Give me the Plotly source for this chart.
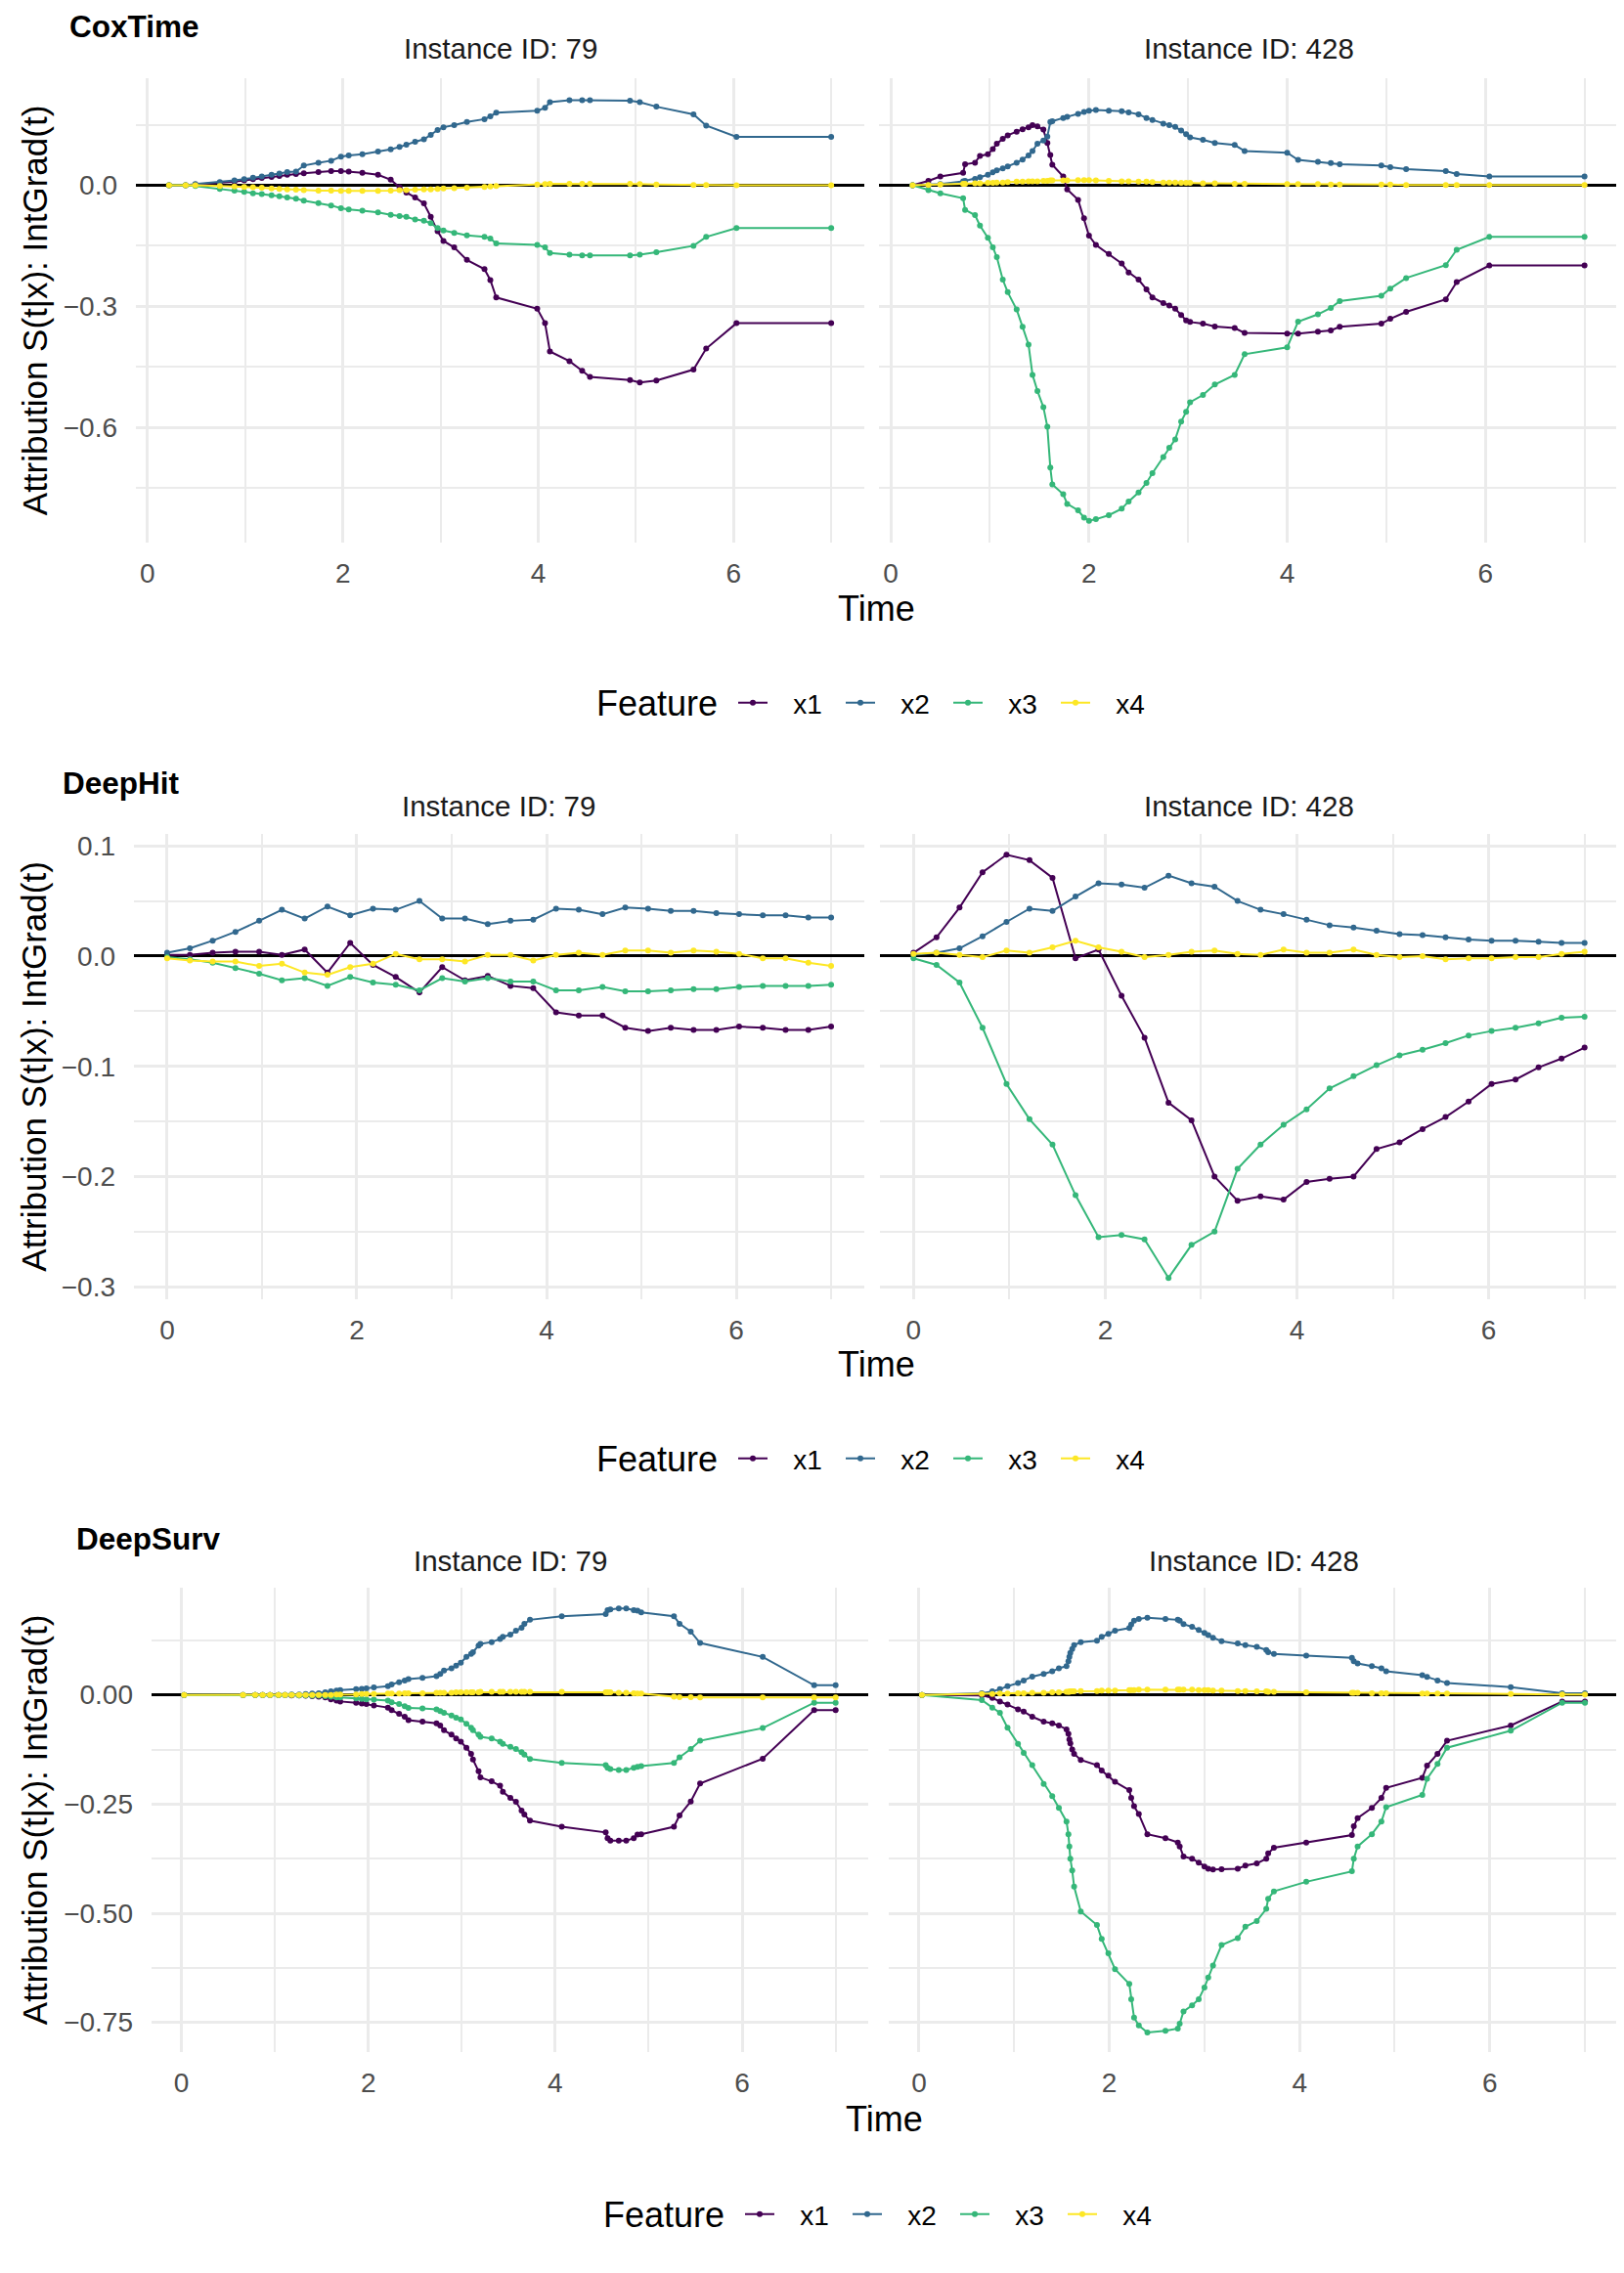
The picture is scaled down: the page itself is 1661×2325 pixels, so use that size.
import plotly.graph_objects as go
from plotly.subplots import make_subplots

# the page body adds an 8px margin, so the figure is drawn 8px in from the corner
OFF = 8
W, H = 1661 - OFF, 2325 - OFF
FONT = "Liberation Sans, Arial, Helvetica, sans-serif"
FEATURES = ["x1", "x2", "x3", "x4"]
COLORS = ["#440154", "#31688E", "#35B779", "#FDE725"]

# ---- CoxTime, instance 79
cox_79_t = [0.22, 0.39, 0.49, 0.74, 0.89, 0.99, 1.08, 1.17, 1.27, 1.35, 1.43, 1.52, 1.60, 1.75, 1.88,
            1.98, 2.06, 2.20, 2.36, 2.49, 2.58, 2.65, 2.74, 2.83, 2.90, 2.97, 3.03, 3.14, 3.27, 3.45,
            3.51, 3.57, 3.99, 4.07, 4.12, 4.32, 4.45, 4.53, 4.94, 5.04, 5.21, 5.59, 5.72, 6.03, 7.0]
cox_79_x1 = [0, 0, 0.002, 0.006, 0.009, 0.012, 0.015, 0.018, 0.021, 0.023, 0.026, 0.028, 0.030, 0.033, 0.035,
             0.035, 0.034, 0.031, 0.026, 0.014, -0.005, -0.018, -0.030, -0.045, -0.078, -0.114, -0.138, -0.154,
             -0.185, -0.208, -0.235, -0.278, -0.306, -0.342, -0.412, -0.436, -0.460, -0.475, -0.483, -0.489,
             -0.484, -0.457, -0.405, -0.342, -0.342]
cox_79_x2 = [0, 0, 0.003, 0.008, 0.012, 0.015, 0.019, 0.022, 0.026, 0.029, 0.033, 0.034, 0.049, 0.056, 0.061,
             0.071, 0.074, 0.077, 0.084, 0.089, 0.095, 0.101, 0.108, 0.114, 0.125, 0.137, 0.144, 0.149, 0.157,
             0.164, 0.171, 0.180, 0.185, 0.192, 0.206, 0.211, 0.211, 0.211, 0.210, 0.206, 0.195, 0.176, 0.148,
             0.120, 0.120]
cox_79_x3 = [0, 0, -0.002, -0.009, -0.013, -0.016, -0.020, -0.022, -0.025, -0.027, -0.030, -0.033, -0.038,
             -0.044, -0.050, -0.057, -0.060, -0.063, -0.067, -0.073, -0.076, -0.078, -0.085, -0.088, -0.094,
             -0.106, -0.112, -0.118, -0.124, -0.128, -0.132, -0.144, -0.148, -0.154, -0.168, -0.172, -0.174,
             -0.174, -0.174, -0.172, -0.166, -0.150, -0.128, -0.106, -0.106]
cox_79_x4 = [0, 0, 0, -0.002, -0.003, -0.004, -0.005, -0.006, -0.008, -0.009, -0.010, -0.011, -0.012, -0.013,
             -0.013, -0.014, -0.014, -0.014, -0.014, -0.013, -0.012, -0.012, -0.011, -0.010, -0.010, -0.009,
             -0.008, -0.007, -0.006, -0.004, -0.003, -0.002, 0.002, 0.003, 0.004, 0.004, 0.004, 0.004, 0.004,
             0.003, 0.002, 0.001, 0.001, 0.0, 0.0]

# ---- CoxTime, instance 428
cox_428_t = [0.22, 0.38, 0.50, 0.73, 0.75, 0.85, 0.90, 0.98, 1.03, 1.07, 1.13, 1.18, 1.27, 1.33, 1.39,
             1.43, 1.48, 1.54, 1.58, 1.61, 1.63, 1.74, 1.78, 1.89, 1.95, 2.0, 2.07, 2.20, 2.33, 2.40,
             2.50, 2.58, 2.64, 2.75, 2.81, 2.87, 2.93, 2.98, 3.02, 3.15, 3.27, 3.47, 3.57, 4.0, 4.11,
             4.31, 4.44, 4.53, 4.95, 5.04, 5.20, 5.60, 5.71, 6.04, 7.0]
cox_428_x1 = [0, 0.011, 0.022, 0.031, 0.052, 0.056, 0.073, 0.077, 0.090, 0.103, 0.115, 0.124, 0.133, 0.139,
              0.144, 0.149, 0.146, 0.138, 0.105, 0.075, 0.051, 0.022, -0.010, -0.036, -0.082, -0.125, -0.148,
              -0.170, -0.194, -0.216, -0.234, -0.258, -0.278, -0.292, -0.298, -0.306, -0.322, -0.335, -0.339,
              -0.343, -0.350, -0.354, -0.366, -0.368, -0.368, -0.363, -0.360, -0.351, -0.343, -0.331, -0.314,
              -0.283, -0.240, -0.199, -0.199]
cox_428_x2 = [0, 0.001, 0.003, 0.010, 0.011, 0.016, 0.020, 0.026, 0.032, 0.037, 0.042, 0.047, 0.056, 0.064,
              0.074, 0.085, 0.103, 0.111, 0.121, 0.157, 0.159, 0.167, 0.170, 0.177, 0.182, 0.185, 0.187, 0.185,
              0.184, 0.181, 0.176, 0.167, 0.162, 0.153, 0.149, 0.145, 0.136, 0.127, 0.119, 0.113, 0.105, 0.100,
              0.085, 0.081, 0.063, 0.058, 0.055, 0.052, 0.049, 0.045, 0.040, 0.035, 0.028, 0.022, 0.022]
cox_428_x3 = [0, -0.012, -0.020, -0.032, -0.061, -0.074, -0.100, -0.130, -0.154, -0.178, -0.234, -0.265,
              -0.308, -0.351, -0.395, -0.470, -0.510, -0.550, -0.599, -0.700, -0.742, -0.766, -0.790, -0.806,
              -0.824, -0.832, -0.828, -0.818, -0.802, -0.784, -0.762, -0.738, -0.714, -0.674, -0.651, -0.630,
              -0.586, -0.562, -0.538, -0.520, -0.494, -0.470, -0.419, -0.402, -0.338, -0.320, -0.304, -0.287,
              -0.274, -0.256, -0.230, -0.198, -0.160, -0.128, -0.128]
cox_428_x4 = [0, 0.001, 0.002, 0.004, 0.004, 0.005, 0.005, 0.006, 0.006, 0.007, 0.007, 0.008, 0.009, 0.009,
              0.010, 0.010, 0.010, 0.011, 0.011, 0.012, 0.012, 0.012, 0.012, 0.013, 0.013, 0.013, 0.012, 0.011,
              0.010, 0.010, 0.009, 0.009, 0.008, 0.007, 0.007, 0.007, 0.006, 0.006, 0.006, 0.005, 0.005, 0.004,
              0.004, 0.003, 0.003, 0.003, 0.002, 0.002, 0.002, 0.002, 0.001, 0.001, 0.001, 0.001, 0.001]

# ---- DeepHit (same time grid for both instances)
deephit_t = [0, 0.24, 0.48, 0.72, 0.97, 1.21, 1.45, 1.69, 1.93, 2.17, 2.41, 2.66, 2.90, 3.14, 3.38,
             3.62, 3.86, 4.10, 4.34, 4.59, 4.83, 5.07, 5.31, 5.55, 5.79, 6.03, 6.28, 6.52, 6.76, 7.0]
hit_79_x1 = [0.001, 0.001, 0.003, 0.004, 0.004, 0.001, 0.006, -0.015, 0.012, -0.008, -0.019, -0.033, -0.010,
             -0.022, -0.018, -0.027, -0.029, -0.051, -0.054, -0.054, -0.065, -0.068, -0.065, -0.067, -0.067,
             -0.064, -0.065, -0.067, -0.067, -0.064]
hit_79_x2 = [0.003, 0.007, 0.014, 0.022, 0.032, 0.042, 0.034, 0.045, 0.037, 0.043, 0.042, 0.050, 0.034, 0.034,
             0.029, 0.032, 0.033, 0.043, 0.042, 0.038, 0.044, 0.043, 0.041, 0.041, 0.039, 0.038, 0.037, 0.037,
             0.035, 0.035]
hit_79_x3 = [-0.001, -0.003, -0.006, -0.011, -0.016, -0.022, -0.020, -0.027, -0.019, -0.024, -0.026, -0.031,
             -0.020, -0.023, -0.020, -0.023, -0.023, -0.031, -0.031, -0.028, -0.032, -0.032, -0.031, -0.030,
             -0.030, -0.028, -0.027, -0.027, -0.027, -0.026]
hit_79_x4 = [-0.002, -0.004, -0.005, -0.005, -0.009, -0.007, -0.015, -0.017, -0.010, -0.007, 0.002, -0.003,
             -0.003, -0.005, 0.001, 0.001, -0.004, 0.001, 0.003, 0.001, 0.005, 0.005, 0.003, 0.005, 0.004,
             0.002, -0.002, -0.002, -0.006, -0.009]
hit_428_x1 = [0.003, 0.017, 0.044, 0.076, 0.092, 0.087, 0.071, -0.002, 0.006, -0.036, -0.074, -0.133, -0.149,
              -0.200, -0.222, -0.218, -0.221, -0.205, -0.202, -0.200, -0.175, -0.169, -0.157, -0.146, -0.132,
              -0.116, -0.112, -0.101, -0.093, -0.083]
hit_428_x2 = [0.001, 0.003, 0.007, 0.018, 0.031, 0.043, 0.041, 0.054, 0.066, 0.065, 0.062, 0.073, 0.066, 0.063,
              0.050, 0.042, 0.038, 0.033, 0.028, 0.026, 0.023, 0.020, 0.019, 0.017, 0.015, 0.014, 0.014, 0.013,
              0.012, 0.012]
hit_428_x3 = [-0.002, -0.008, -0.024, -0.065, -0.116, -0.148, -0.171, -0.217, -0.255, -0.253, -0.257, -0.292,
              -0.262, -0.250, -0.193, -0.171, -0.153, -0.139, -0.120, -0.109, -0.099, -0.090, -0.085, -0.079,
              -0.072, -0.068, -0.065, -0.061, -0.056, -0.055]
hit_428_x4 = [0.002, 0.003, 0.001, -0.001, 0.005, 0.003, 0.008, 0.014, 0.008, 0.004, -0.001, 0.001, 0.004,
              0.005, 0.002, 0.001, 0.006, 0.003, 0.003, 0.006, 0.001, -0.001, 0.000, -0.003, -0.002, -0.002,
              -0.001, -0.001, 0.002, 0.004]

# ---- DeepSurv, instance 79
surv_79_t = [0.03, 0.66, 0.79, 0.87, 0.95, 1.04, 1.11, 1.18, 1.26, 1.33, 1.40, 1.47, 1.54, 1.60, 1.66,
             1.70, 1.87, 1.93, 1.98, 2.06, 2.21, 2.25, 2.33, 2.39, 2.43, 2.58, 2.73, 2.77, 2.81, 2.89,
             2.94, 2.99, 3.05, 3.10, 3.12, 3.18, 3.20, 3.32, 3.41, 3.44, 3.52, 3.58, 3.64, 3.67, 3.73,
             4.07, 4.54, 4.56, 4.59, 4.68, 4.76, 4.84, 4.88, 4.92, 5.27, 5.33, 5.45, 5.55, 6.22, 6.77, 7.0]
surv_79_x1 = [0, 0, 0, 0, 0, 0, 0, -0.001, -0.001, -0.002, -0.003, -0.004, -0.006, -0.010, -0.013, -0.015,
              -0.018, -0.020, -0.021, -0.024, -0.029, -0.035, -0.043, -0.050, -0.058, -0.061, -0.065, -0.070,
              -0.081, -0.091, -0.100, -0.107, -0.121, -0.135, -0.148, -0.175, -0.189, -0.198, -0.208, -0.222,
              -0.236, -0.245, -0.265, -0.274, -0.288, -0.302, -0.315, -0.328, -0.334, -0.334, -0.334, -0.328,
              -0.320, -0.319, -0.302, -0.276, -0.244, -0.203, -0.146, -0.035, -0.035]
surv_79_x2 = [0, 0, 0, 0, 0, 0, 0, 0.001, 0.001, 0.002, 0.003, 0.004, 0.006, 0.008, 0.010, 0.011, 0.013,
              0.014, 0.015, 0.017, 0.020, 0.024, 0.029, 0.033, 0.036, 0.039, 0.043, 0.048, 0.056, 0.061, 0.067,
              0.074, 0.087, 0.094, 0.098, 0.113, 0.117, 0.121, 0.128, 0.133, 0.138, 0.147, 0.154, 0.163, 0.172,
              0.180, 0.185, 0.194, 0.196, 0.198, 0.198, 0.194, 0.193, 0.189, 0.180, 0.163, 0.145, 0.119, 0.087,
              0.022, 0.022]
surv_79_x3 = [0, 0, 0, 0, 0, 0, 0, 0, -0.001, -0.001, -0.002, -0.002, -0.003, -0.004, -0.006, -0.006, -0.008,
              -0.009, -0.010, -0.011, -0.013, -0.017, -0.021, -0.026, -0.030, -0.031, -0.033, -0.037, -0.041,
              -0.047, -0.052, -0.056, -0.066, -0.075, -0.081, -0.091, -0.096, -0.100, -0.107, -0.112, -0.119,
              -0.124, -0.131, -0.137, -0.147, -0.156, -0.161, -0.167, -0.170, -0.172, -0.172, -0.167, -0.165,
              -0.163, -0.156, -0.143, -0.124, -0.105, -0.076, -0.018, -0.018]
surv_79_x4 = [0, 0, 0, 0, 0, 0, 0, 0, 0, 0, 0, 0, 0, 0, 0.001, 0.001, 0.001, 0.002, 0.002, 0.002, 0.003,
              0.003, 0.003, 0.004, 0.004, 0.004, 0.005, 0.005, 0.005, 0.005, 0.006, 0.006, 0.006, 0.006, 0.006,
              0.006, 0.007, 0.007, 0.007, 0.007, 0.007, 0.007, 0.007, 0.007, 0.007, 0.007, 0.006, 0.006, 0.006,
              0.005, 0.005, 0.004, 0.003, 0.003, -0.004, -0.005, -0.005, -0.006, -0.006, -0.006, -0.006]

# ---- DeepSurv, instance 428
surv_428_t = [0.03, 0.66, 0.77, 0.85, 0.93, 1.04, 1.10, 1.19, 1.31, 1.40, 1.47, 1.55, 1.57, 1.58, 1.59,
              1.61, 1.63, 1.70, 1.87, 1.92, 1.99, 2.06, 2.21, 2.23, 2.26, 2.31, 2.40, 2.59, 2.72, 2.74,
              2.78, 2.87, 2.94, 3.0, 3.04, 3.09, 3.18, 3.35, 3.43, 3.55, 3.65, 3.67, 3.73, 4.07, 4.55,
              4.57, 4.61, 4.76, 4.86, 4.91, 5.29, 5.34, 5.45, 5.55, 6.22, 6.76, 7.0]
surv_428_x1 = [0, -0.001, -0.007, -0.015, -0.022, -0.033, -0.038, -0.050, -0.061, -0.065, -0.070, -0.079,
               -0.089, -0.102, -0.111, -0.125, -0.135, -0.149, -0.161, -0.173, -0.185, -0.199, -0.218, -0.236,
               -0.255, -0.273, -0.319, -0.328, -0.338, -0.347, -0.370, -0.375, -0.384, -0.393, -0.398, -0.400,
               -0.399, -0.398, -0.391, -0.386, -0.375, -0.363, -0.350, -0.338, -0.321, -0.301, -0.282, -0.259,
               -0.236, -0.213, -0.190, -0.162, -0.135, -0.105, -0.070, -0.015, -0.015]
surv_428_x2 = [0, 0.004, 0.008, 0.013, 0.020, 0.027, 0.033, 0.042, 0.048, 0.054, 0.061, 0.066, 0.077, 0.087,
               0.096, 0.105, 0.114, 0.121, 0.124, 0.133, 0.140, 0.147, 0.153, 0.161, 0.170, 0.174, 0.177, 0.174,
               0.172, 0.170, 0.162, 0.156, 0.149, 0.142, 0.137, 0.131, 0.123, 0.118, 0.114, 0.110, 0.103, 0.098,
               0.094, 0.090, 0.085, 0.077, 0.072, 0.066, 0.061, 0.054, 0.045, 0.041, 0.033, 0.027, 0.018, 0.004,
               0.004]
surv_428_x3 = [0, -0.012, -0.029, -0.041, -0.075, -0.112, -0.133, -0.161, -0.204, -0.232, -0.259, -0.290,
               -0.319, -0.347, -0.375, -0.402, -0.439, -0.496, -0.527, -0.559, -0.592, -0.628, -0.662, -0.697,
               -0.739, -0.757, -0.773, -0.769, -0.764, -0.753, -0.725, -0.711, -0.697, -0.670, -0.647, -0.620,
               -0.573, -0.557, -0.531, -0.518, -0.490, -0.467, -0.450, -0.428, -0.404, -0.375, -0.347, -0.319,
               -0.290, -0.257, -0.229, -0.192, -0.158, -0.121, -0.082, -0.018, -0.018]
surv_428_x4 = [0, 0.002, 0.002, 0.003, 0.003, 0.004, 0.004, 0.005, 0.005, 0.006, 0.006, 0.007, 0.007, 0.007,
               0.008, 0.008, 0.008, 0.009, 0.009, 0.010, 0.010, 0.010, 0.011, 0.011, 0.011, 0.012, 0.012, 0.012,
               0.012, 0.012, 0.012, 0.012, 0.011, 0.011, 0.011, 0.010, 0.010, 0.009, 0.009, 0.008, 0.008, 0.007,
               0.007, 0.006, 0.005, 0.005, 0.005, 0.004, 0.004, 0.004, 0.003, 0.003, 0.003, 0.003, 0.002, 0.001,
               0.001]

instances = ["Instance ID: 79", "Instance ID: 428"]

# one entry per model row; pixel positions are page pixels
rows = [
    dict(name="CoxTime",
         panels=[(cox_79_t, [cox_79_x1, cox_79_x2, cox_79_x3, cox_79_x4]),
                 (cox_428_t, [cox_428_x1, cox_428_x2, cox_428_x3, cox_428_x4])],
         yrange=[-0.885, 0.266], dtick=0.3, fmt=".1f", xrange=[-0.119, 7.339],
         top=77, bottom=553, left=(139, 884), right=(899, 1655),
         title_xy=(69, 24), strip_y=47, time_y=621, feature_x=736, legend_xy=(750, 718)),
    dict(name="DeepHit",
         panels=[(deephit_t, [hit_79_x1, hit_79_x2, hit_79_x3, hit_79_x4]),
                 (deephit_t, [hit_428_x1, hit_428_x2, hit_428_x3, hit_428_x4])],
         yrange=[-0.311, 0.111], dtick=0.1, fmt=".1f", xrange=[-0.35, 7.35],
         top=852, bottom=1329, left=(137, 884), right=(900, 1655),
         title_xy=(62, 800), strip_y=824, time_y=1396, feature_x=736, legend_xy=(750, 1493)),
    dict(name="DeepSurv",
         panels=[(surv_79_t, [surv_79_x1, surv_79_x2, surv_79_x3, surv_79_x4]),
                 (surv_428_t, [surv_428_x1, surv_428_x2, surv_428_x3, surv_428_x4])],
         yrange=[-0.817, 0.246], dtick=0.25, fmt=".2f", xrange=[-0.3185, 7.3485],
         top=1625, bottom=2101, left=(155, 888), right=(909, 1655),
         title_xy=(76, 1575), strip_y=1598, time_y=2170, feature_x=743, legend_xy=(757, 2268)),
]


def px_x(v):
    return (v - OFF) / W


def px_y(v):
    return 1 - (v - OFF) / H


fig = make_subplots(rows=3, cols=2)
annotations = []

for r, row in enumerate(rows):
    legend_id = "legend" if r == 0 else f"legend{r + 1}"
    for c, (t, series) in enumerate(row["panels"]):
        for k, vals in enumerate(series):
            fig.add_trace(go.Scatter(
                x=t, y=vals, mode="lines+markers",
                # non-breaking spaces open the gap between key and label
                name="\u00a0\u00a0\u2009" + FEATURES[k],
                line=dict(color=COLORS[k], width=2),
                marker=dict(color=COLORS[k], size=6),
                legend=legend_id, legendgroup=f"{r}-{FEATURES[k]}",
                showlegend=(c == 0),
            ), row=r + 1, col=c + 1)

        idx = r * 2 + c + 1
        xa = "xaxis" if idx == 1 else f"xaxis{idx}"
        ya = "yaxis" if idx == 1 else f"yaxis{idx}"
        x0, x1 = row["left"] if c == 0 else row["right"]
        fig.layout[xa].update(
            domain=[px_x(x0), px_x(x1)], range=row["xrange"],
            tick0=0, dtick=2, showgrid=True, gridcolor="#EBEBEB", gridwidth=2.8,
            minor=dict(dtick=1, tick0=0, showgrid=True, gridcolor="#EBEBEB", gridwidth=1.5),
            zeroline=False, showline=False, ticks="",
            tickfont=dict(family=FONT, size=28, color="#4D4D4D"), ticklabelstandoff=12,
        )
        fig.layout[ya].update(
            domain=[px_y(row["bottom"]), px_y(row["top"])], range=row["yrange"],
            tick0=0, dtick=row["dtick"], tickformat=row["fmt"],
            showgrid=True, gridcolor="#EBEBEB", gridwidth=2.8,
            minor=dict(dtick=row["dtick"] / 2, tick0=0, showgrid=True, gridcolor="#EBEBEB", gridwidth=1.5),
            zeroline=True, zerolinecolor="black", zerolinewidth=2.6,
            showline=False, ticks="", showticklabels=(c == 0),
            tickfont=dict(family=FONT, size=28, color="#4D4D4D"), ticklabelstandoff=18,
        )
        # facet strip label
        annotations.append(dict(
            text=instances[c], x=px_x((x0 + x1) / 2), y=px_y(row["strip_y"]),
            xref="paper", yref="paper", xanchor="center", yanchor="middle", showarrow=False,
            font=dict(family=FONT, size=29.5, color="#1A1A1A"),
        ))

    # model title
    tx, ty = row["title_xy"]
    annotations.append(dict(
        text=f"<b>{row['name']}</b>", x=px_x(tx), y=px_y(ty), xref="paper", yref="paper",
        xanchor="left", yanchor="middle", showarrow=False,
        font=dict(family=FONT, size=31.5, color="black"),
    ))
    # axis titles
    annotations.append(dict(
        text="Time", x=px_x((row["left"][0] + row["right"][1]) / 2), y=px_y(row["time_y"]),
        xref="paper", yref="paper", xanchor="center", yanchor="middle", showarrow=False,
        font=dict(family=FONT, size=36, color="black"),
    ))
    annotations.append(dict(
        text="Attribution S(t|x): IntGrad(t)", x=px_x(35), y=px_y((row["top"] + row["bottom"]) / 2),
        xref="paper", yref="paper", xanchor="center", yanchor="middle", showarrow=False,
        textangle=-90, font=dict(family=FONT, size=35, color="black"),
    ))
    # legend title drawn as text, legend entries to its right
    lx, ly = row["legend_xy"]
    annotations.append(dict(
        text="Feature", x=px_x(row["feature_x"]), y=px_y(ly),
        xref="paper", yref="paper", xanchor="right", yanchor="middle", showarrow=False,
        font=dict(family=FONT, size=36, color="black"),
    ))
    fig.layout[legend_id] = dict(
        orientation="h", x=px_x(lx), y=px_y(ly), xanchor="left", yanchor="middle",
        font=dict(family=FONT, size=28, color="black"),
        bgcolor="rgba(0,0,0,0)", itemwidth=30, entrywidth=65,
    )

fig.update_layout(
    width=W, height=H, autosize=False,
    margin=dict(l=0, r=0, t=0, b=0),
    paper_bgcolor="white", plot_bgcolor="white",
    annotations=annotations,
    font=dict(family=FONT),
)

fig.write_html("out.html")
